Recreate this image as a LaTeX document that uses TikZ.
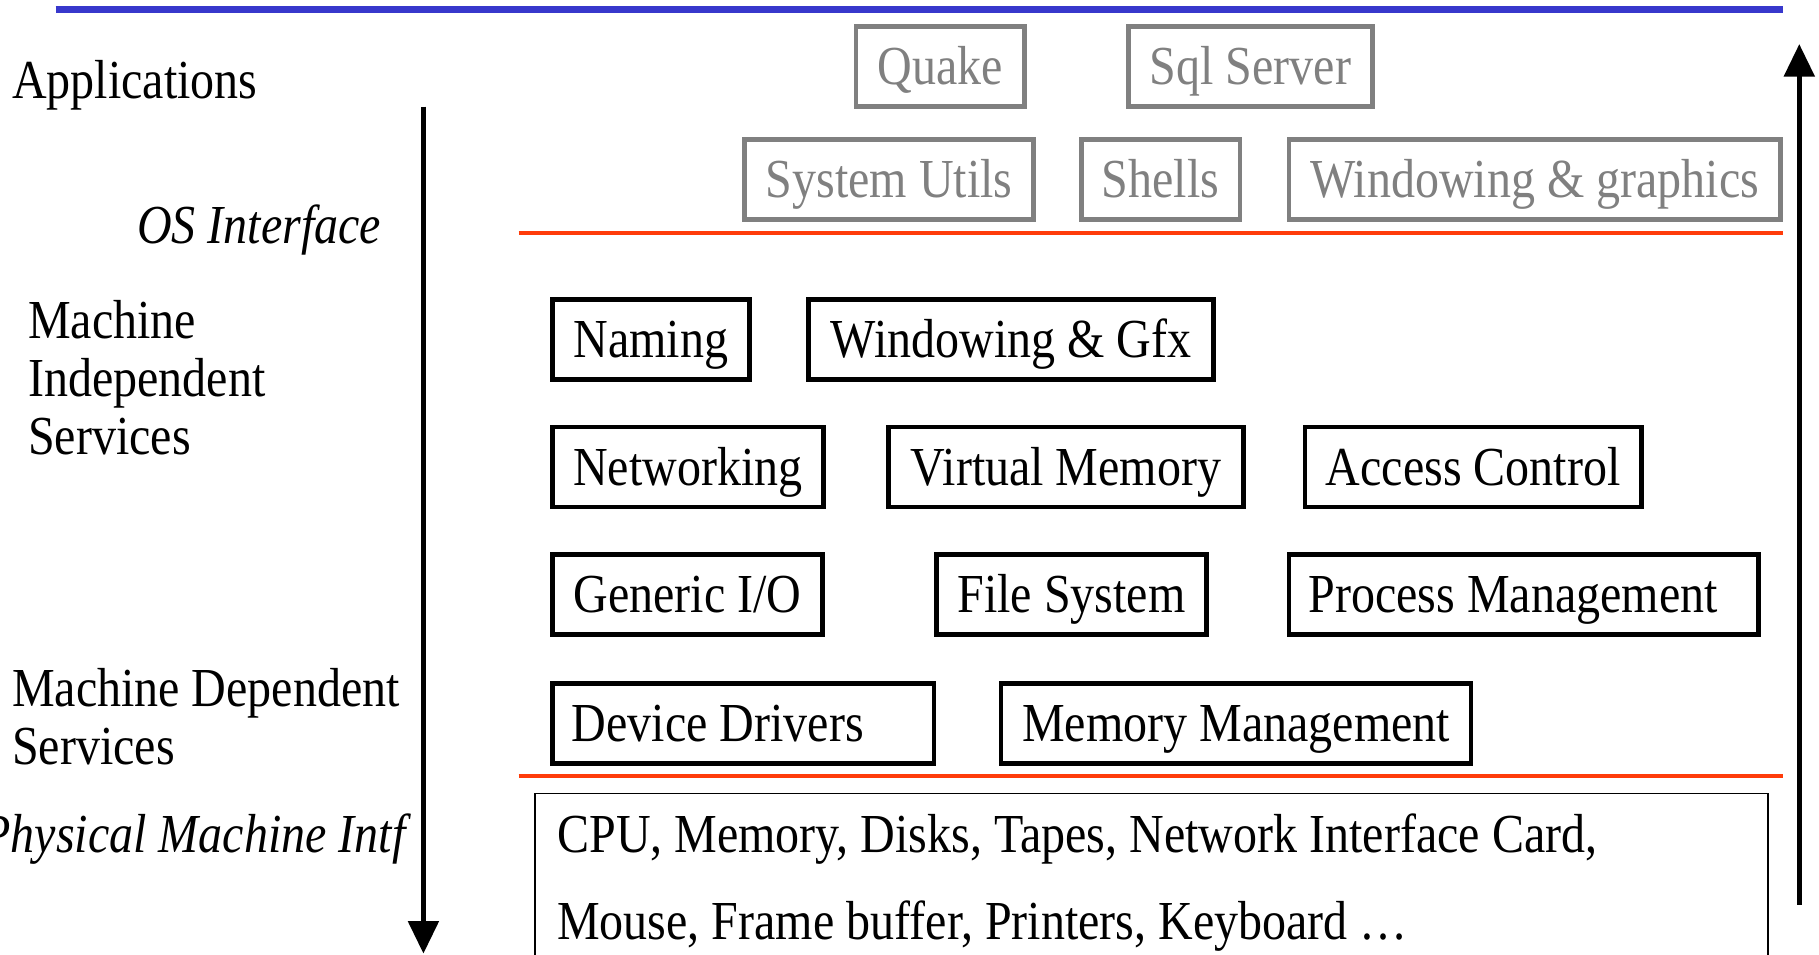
\documentclass[tikz,border=0pt]{standalone}
\usepackage{fontspec}
\setmainfont[FakeStretch=0.873]{Liberation Serif}
\usetikzlibrary{arrows.meta}

\definecolor{ruleblue}{RGB}{56,56,204}
\definecolor{rulered}{RGB}{255,60,10}
\definecolor{appgray}{RGB}{128,128,128}

\begin{document}
\begin{tikzpicture}[x=0.5pt, y=-0.5pt,
    every node/.style={font=\fontsize{23.7}{25}\selectfont},
    svc/.style={draw, line width=2pt, anchor=north west,
        inner sep=0pt, minimum height=34.5pt,
        text height=15.7pt, text depth=0pt},
    app/.style={svc, draw=appgray, text=appgray},
    side/.style={align=left, inner sep=0pt},
    updown/.style={line width=2pt, -{Triangle[width=13pt,length=14pt]}}]
    \useasboundingbox (0,0) rectangle (1568,823);

    % layer boundaries
    \draw[ruleblue, line width=3pt] (48,8) -- (1537,8);
    \draw[rulered, line width=2pt] (447,201) -- (1537,201);
    \draw[rulered, line width=2pt] (447,669) -- (1537,669);

    % applications
    \node[app, minimum width=72.5pt] (quake) at (736,21) {Quake};
    \node[app, minimum width=105pt] (sql) at (971,21) {Sql Server};
    \node[app, minimum width=124.5pt] (utils) at (640,118) {System Utils};
    \node[app, minimum width=68.5pt] (shells) at (930,118) {Shells};
    \node[app, minimum width=212pt] (wingfx) at (1109,118) {Windowing \& graphics};

    % machine independent services
    \node[svc, minimum width=85pt] (naming) at (474,256) {Naming};
    \node[svc, minimum width=174.5pt] (gfx) at (695,256) {Windowing \& Gfx};
    \node[svc, minimum width=117pt] (net) at (474,366) {Networking};
    \node[svc, minimum width=153pt] (vm) at (764,366) {Virtual Memory};
    \node[svc, minimum width=145pt] (acl) at (1123,366) {Access Control};
    \node[svc, minimum width=116.5pt] (gio) at (474,476) {Generic I/O};
    \node[svc, minimum width=116.5pt] (fs) at (805,476) {File System};
    \node[svc, inner xsep=8.5pt, text width=185.5pt, align=flush left] (proc) at (1109,476) {Process Management};

    % machine dependent services
    \node[svc, inner xsep=8.5pt, text width=147.5pt, align=flush left] (drv) at (474,587) {Device Drivers};
    \node[svc, minimum width=202.5pt] (mm) at (861,587) {Memory Management};

    % hardware
    \draw[line width=0.75pt] (461,684) rectangle (1524,870);
    \node[side, anchor=base west, font=\fontsize{23.7}{37.5}\selectfont] (hw) at (480,810)
        {CPU, Memory, Disks, Tapes, Network Interface Card,\\Mouse, Frame buffer, Printers, Keyboard \dots};

    % level names
    \node[side, anchor=base west] (apps) at (10,85) {Applications};
    \node[side, anchor=base east] (osif) at (329,210) {\itshape OS Interface};
    \node[side, anchor=base west] (mis) at (24,392) {Machine\\Independent\\Services};
    \node[side, anchor=base west] (mds) at (10,659) {Machine Dependent\\Services};
    \node[side, anchor=base east] (pmi) at (350,735) {\itshape Physical Machine Intf};

    % abstraction arrows
    \coordinate (downtop) at (365,92);
    \coordinate (downend) at (365,822);
    \coordinate (upbot) at (1551,780);
    \coordinate (uptop) at (1551,38);
    \draw[updown] (downtop) -- (downend);
    \draw[updown] (upbot) -- (uptop);
\end{tikzpicture}
\end{document}
